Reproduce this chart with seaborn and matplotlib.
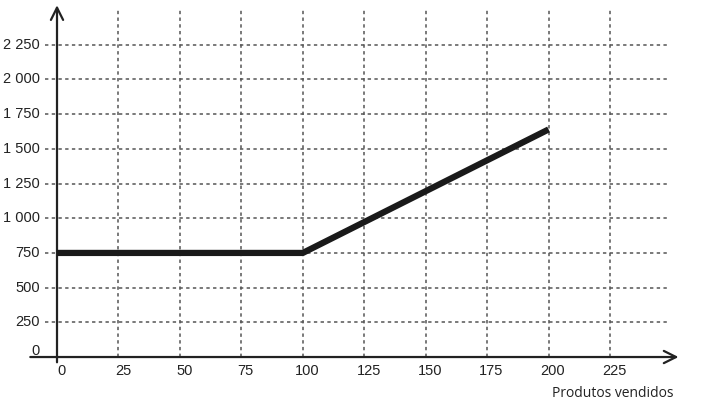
import matplotlib
matplotlib.use("Agg")
import matplotlib.pyplot as plt
import seaborn as sns
import pandas as pd

x_vals = [0, 100, 200]
y_vals = [750, 750, 1640]
x_ticks = [0, 25, 50, 75, 100, 125, 150, 175, 200, 225]
y_ticks = [0, 250, 500, 750, 1000, 1250, 1500, 1750, 2000, 2250]
y_labels = ["0", "250", "500", "750", "1 000", "1 250", "1 500", "1 750", "2 000", "2 250"]
x_label = "Produtos vendidos"

sns.set_style("white")
plt.rcParams['font.family'] = ['Liberation Sans', 'DejaVu Sans']

fig = plt.figure(figsize=(7.27, 4.07), dpi=100)
ax = fig.add_axes([0.0277, 0.0887, 0.9162, 0.907])
ax.set_xlim(-15, 256)
ax.set_ylim(-100, 2560)
for s in ax.spines.values():
    s.set_visible(False)
ax.set_xticks([])
ax.set_yticks([])

grid_kw = dict(color="#555555", lw=1.1, linestyle=(0, (2.2, 2.2)), zorder=1)
for yt in y_ticks[1:]:
    ax.plot([-5, 248], [yt, yt], **grid_kw)
for xt in x_ticks[1:]:
    ax.plot([xt, xt], [0, 2515], **grid_kw)

# axes with arrows
ax.annotate("", xy=(254, 0), xytext=(-12, 0),
            arrowprops=dict(arrowstyle="->", lw=1.6, color="#222222",
                            mutation_scale=22), zorder=3)
ax.annotate("", xy=(0, 2555), xytext=(0, -58),
            arrowprops=dict(arrowstyle="->", lw=1.6, color="#222222",
                            mutation_scale=22), zorder=3)

df = pd.DataFrame({"x": x_vals, "y": y_vals})
sns.lineplot(data=df, x="x", y="y", ax=ax, color="#1a1a1a", lw=4.5,
             zorder=4, solid_capstyle="butt")
ax.set_xlabel("")
ax.set_ylabel("")

for yt, lab in zip(y_ticks, y_labels):
    yy = yt + (45 if yt == 0 else 0)
    ax.text(-7, yy, lab, ha="right", va="center", fontsize=10.5, color="#222222")
for xt in x_ticks:
    ax.text(xt + 1.8, -100, str(xt), ha="center", va="center", fontsize=10.5,
            color="#222222")

ax.text(251, -265, x_label, ha="right", va="center", fontsize=10,
        color="#222222", family=['Open Sans', 'DejaVu Sans'], clip_on=False)

fig.savefig("out.png", dpi=100)
